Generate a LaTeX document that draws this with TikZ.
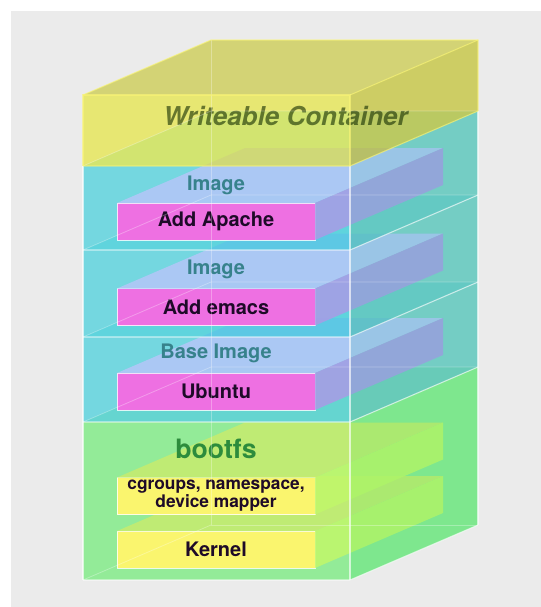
\documentclass[tikz,border=0pt]{standalone}
\usepackage{fontspec}
\setmainfont{TeX Gyre Heros}
\usepackage{tikz}

\definecolor{bggrey}{RGB}{235,235,235}
\definecolor{wcfront}{RGB}{229,229,16}
\definecolor{wcside}{RGB}{185,185,10}
\definecolor{wctop}{RGB}{189,189,0}
\definecolor{wcedge}{RGB}{250,245,120}
\definecolor{imgfront}{RGB}{20,200,215}
\definecolor{imgside}{RGB}{55,190,178}
\definecolor{imgtop}{RGB}{80,210,220}
\definecolor{bootfront}{RGB}{75,235,85}
\definecolor{bootside}{RGB}{70,230,95}
\definecolor{boottop}{RGB}{120,225,120}
\definecolor{slabpink}{RGB}{238,112,226}
\definecolor{pinktop}{RGB}{181,198,248}
\definecolor{pinkside}{RGB}{170,155,230}
\definecolor{slabyellow}{RGB}{250,245,110}
\definecolor{yellowtop}{RGB}{199,235,110}
\definecolor{yellowside}{RGB}{193,247,106}
\definecolor{labelteal}{RGB}{55,130,140}
\definecolor{bootgreen}{RGB}{45,140,60}
\definecolor{slabink}{RGB}{30,10,40}
\definecolor{wcolive}{RGB}{18,43,0}

% one layer of the stack: top y, bottom y, colours
\newcommand{\layertop}[2]{\fill[fill opacity=0.3, #2] (83,#1) -- (350,#1) -- ++(128,-55) -- ++(-267,0) -- cycle;}
\newcommand{\layerbox}[4]{%
	\fill[#3, fill opacity=0.55] (83,#1) rectangle (350,#2);
	\fill[#4, fill opacity=0.6] (350,#1) -- ++(128,-55) -- (478,#2-55) -- (350,#2) -- cycle;}
\newcommand{\sidetint}[3]{\fill[#3, fill opacity=0.15] (350,#1) -- ++(128,-55) -- (478,#2-55) -- (350,#2) -- cycle;}
% top and side of a slab node
\newcommand{\slabfaces}[3]{%
	\fill[#2, fill opacity=0.85] (#1.north west) -- (#1.north east) -- ++(128,-55) -- ++(-198,0) -- cycle;
	\fill[#3, fill opacity=0.85] (#1.north east) -- ++(128,-55) -- ([shift={(128,-55)}]#1.south east) -- (#1.south east) -- cycle;}

\begin{document}
\begin{tikzpicture}[x=0.75pt,y=-0.75pt,
	slabbox/.style={draw=white, draw opacity=0.8, line width=0.6pt, inner sep=0pt, outer sep=0pt,
		minimum width=148.5pt, minimum height=27.75pt, text=slabink, font=\bfseries\fontsize{15}{18}\selectfont},
	layerlbl/.style={text=labelteal, font=\bfseries\fontsize{15}{18}\selectfont},
	edge/.style={draw=white, draw opacity=0.65, line width=0.8pt},
	hidden/.style={draw=white, draw opacity=0.3, line width=0.6pt}]
	\useasboundingbox (0,0) rectangle (541,607);
	\fill[white] (0,0) rectangle (541,607);
	\fill[bggrey] (11,11) rectangle (541,607);

	% bootfs
	\layertop{422}{boottop}
	\layerbox{422}{580}{bootfront}{bootside}
	\node[slabbox, fill=slabyellow] (kernel) at (216,549.5) {Kernel};
	\slabfaces{kernel}{yellowtop}{yellowside}
	\node[slabbox, fill=slabyellow, align=center, font=\bfseries\fontsize{13}{13.5}\selectfont] (cgroups) at (216,496) {cgroups, namespace,\\device mapper};
	\slabfaces{cgroups}{yellowtop}{yellowside}
	\sidetint{422}{580}{bootside}
	\node[text=bootgreen, font=\bfseries\fontsize{20}{24}\selectfont] (bootfs) at (216,449) {bootfs};

	% base image
	\layertop{337}{imgtop}
	\layerbox{337}{422}{imgfront}{imgside}
	\node[slabbox, fill=slabpink] (ubuntu) at (216,391.5) {Ubuntu};
	\slabfaces{ubuntu}{pinktop}{pinkside}
	\sidetint{337}{422}{imgside}
	\node[layerlbl] (baseimg) at (216,353) {Base Image};

	% image with emacs
	\layertop{250}{imgtop}
	\layerbox{250}{337}{imgfront}{imgside}
	\node[slabbox, fill=slabpink] (emacs) at (216,307) {Add emacs};
	\slabfaces{emacs}{pinktop}{pinkside}
	\sidetint{250}{337}{imgside}
	\node[layerlbl] (imgb) at (216,269) {Image};

	% image with apache
	\layertop{166}{imgtop}
	\layerbox{166}{250}{imgfront}{imgside}
	\node[slabbox, fill=slabpink] (apache) at (216,221.5) {Add Apache};
	\slabfaces{apache}{pinktop}{pinkside}
	\sidetint{166}{250}{imgside}
	\node[layerlbl] (imga) at (216,185) {Image};

	% writeable container
	\layertop{95}{wctop, fill opacity=0.5}
	\layerbox{95}{166}{wcfront}{wcside}
	\node[text=wcolive, text opacity=0.6, font=\bfseries\itshape\fontsize{19.5}{23}\selectfont] (wclabel) at (285.5,116) {Writeable Container};

	% edges
	\draw[hidden] (211,40) -- (211,525) -- (478,525);
	\foreach \y in {166,250,337,422}
		\draw[hidden] (83,\y) -- ++(128,-55) -- ++(267,0);
	\draw[hidden] (83,580) -- (211,525);
	\foreach \y in {250,337,422,580}
		\draw[edge] (83,\y) -- (350,\y) -- ++(128,-55);
	\draw[edge] (83,166) -- (83,580);
	\draw[edge] (350,166) -- (350,580);
	\draw[edge] (478,111) -- (478,525);
	\draw[edge, draw=wcedge] (83,166) -- (350,166) -- (478,111);
	\draw[edge, draw=wcedge] (83,166) -- (83,95) -- (350,95) -- (350,166);
	\draw[edge, draw=wcedge] (83,95) -- (211,40) -- (478,40) -- (478,111);
	\draw[edge, draw=wcedge] (350,95) -- (478,40);
\end{tikzpicture}
\end{document}
